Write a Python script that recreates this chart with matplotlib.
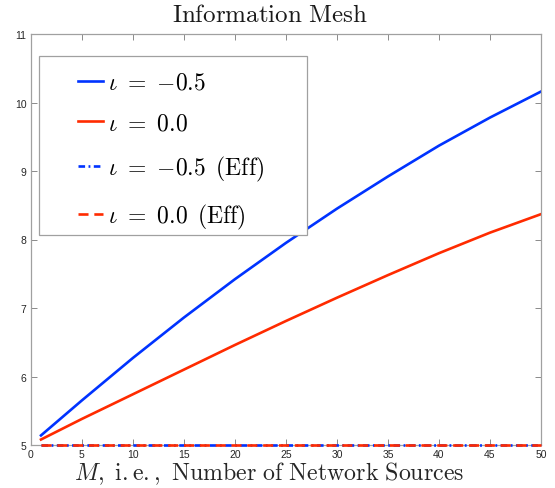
import numpy as np
import matplotlib
matplotlib.use('Agg')
import matplotlib.pyplot as plt
from matplotlib.patches import Rectangle

plt.rcParams['mathtext.fontset'] = 'cm'
plt.rcParams['font.family'] = ['Liberation Sans', 'DejaVu Sans']

# values
M = [1, 5, 10, 15, 20, 25, 30, 35, 40, 45, 50]
iota_neg = [5.14, 5.65, 6.27, 6.86, 7.42, 7.95, 8.45, 8.92, 9.37, 9.78, 10.16]
iota_zero = [5.08, 5.38, 5.74, 6.10, 6.46, 6.81, 7.15, 7.48, 7.80, 8.10, 8.37]
M_eff = [1, 50]
eff_neg = [5.0, 5.0]
eff_zero = [5.0, 5.0]

labels = [r'$\iota\ =\ {-0.5}$', r'$\iota\ =\ 0.0$',
          r'$\iota\ =\ {-0.5}\ \,\mathrm{(Eff)}$', r'$\iota\ =\ 0.0\ \,\mathrm{(Eff)}$']
xticks = list(range(0, 51, 5))
yticks = list(range(5, 12))

blue = (0.0, 0.2, 1.0)
red = (1.0, 0.17, 0.0)
grey = '#a0a0a0'

fig = plt.figure(figsize=(5.55, 4.89), dpi=100)
ax = fig.add_axes([30.8 / 555, 43 / 489, 510.2 / 555, 411 / 489])

l1, = ax.plot(M, iota_neg, color=blue, lw=1.9)
l2, = ax.plot(M, iota_zero, color=red, lw=1.9)
l3, = ax.plot(M_eff, eff_neg, color=blue, lw=1.9, ls=(0, (2.5, 1.3, 0.7, 1.3)),
              clip_on=False, zorder=3)
l4, = ax.plot(M_eff, eff_zero, color=red, lw=1.9, ls=(0, (3.8, 2.2)),
              clip_on=False, zorder=3)

ax.set_xlim(0, 50)
ax.set_ylim(5, 11)
ax.set_xticks(xticks)
ax.set_yticks(yticks)
ax.tick_params(direction='in', length=4, width=0.6, colors='#777777',
               labelcolor='#262626', labelsize=7.5, top=True, right=True, pad=3)
for s in ax.spines.values():
    s.set_color(grey)
    s.set_linewidth(0.9)

# legend frame drawn separately (MATLAB-like wide left padding)
ax.add_patch(Rectangle((0.016, 0.511), 0.525, 0.435, transform=ax.transAxes,
                       fill=True, facecolor='white', edgecolor=grey, lw=0.9, zorder=5))
leg = ax.legend([l1, l2, l3, l4], labels, loc='upper left',
                bbox_to_anchor=(0.0925, 0.908), frameon=False, fontsize=17,
                handlelength=1.05, handletextpad=0.2, labelspacing=0.8,
                borderpad=0, borderaxespad=0)
leg.set_zorder(6)

fig.text(270 / 555, 1 - 15 / 489, r'$\mathrm{Information\ Mesh}$', ha='center', va='center',
         fontsize=18, color='#1a1a1a')
fig.text(269 / 555, 1 - 474 / 489, r'$M\mathrm{,\ i.e.,\ Number\ of\ Network\ Sources}$',
         ha='center', va='center', fontsize=17.2, color='#262626')

fig.savefig('out.png', dpi=100)
